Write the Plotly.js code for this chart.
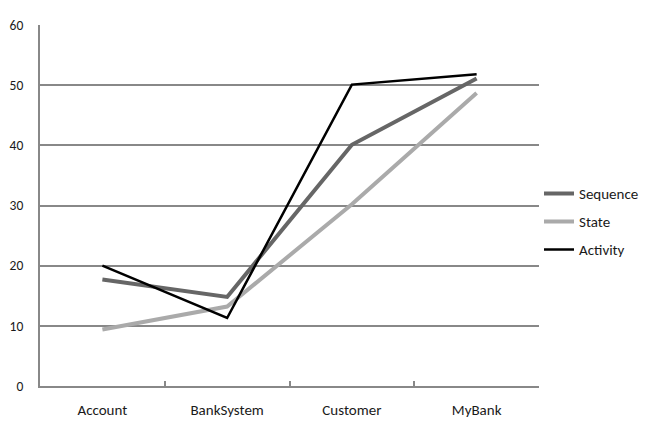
<!DOCTYPE html>
<html>
<head>
<meta charset="utf-8">
<script src="https://cdn.plot.ly/plotly-3.0.1.min.js"></script>
<style>html,body{margin:0;padding:0;background:#fff;}#chart{width:649px;height:438px;}</style>
</head>
<body>
<div id="chart"></div>
<script>
const categories = ["Account", "BankSystem", "Customer", "MyBank"];
const sequenceValues = [17.7, 14.8, 40.1, 51.1];
const stateValues = [9.4, 13.2, 30.2, 48.7];
const activityValues = [20.0, 11.3, 50.1, 51.8];
const seriesNames = ["Sequence", "State", "Activity"];
const yTicks = [0, 10, 20, 30, 40, 50, 60];

const traces = [
  {x: categories, y: sequenceValues, name: seriesNames[0], legendgroup: "a", type: "scatter", mode: "lines", line: {color: "#666666", width: 4}},
  {x: categories, y: stateValues, name: seriesNames[1], legendgroup: "b", type: "scatter", mode: "lines", line: {color: "#aaaaaa", width: 4}},
  {x: categories, y: activityValues, name: seriesNames[2], legendgroup: "c", type: "scatter", mode: "lines", line: {color: "#000000", width: 2.5}}
];

const layout = {
  width: 649, height: 438,
  margin: {l: 40, r: 110, t: 25, b: 52, autoexpand: false},
  paper_bgcolor: "#ffffff", plot_bgcolor: "#ffffff",
  font: {family: "Carlito, Lato, sans-serif", size: 15, color: "#1a1a1a"},
  showlegend: true,
  legend: {x: 1.0, xanchor: "left", y: 0.455, yanchor: "middle", tracegroupgap: 5.5, font: {size: 15, color: "#1a1a1a"}, bgcolor: "rgba(0,0,0,0)"},
  xaxis: {
    type: "category", range: [-0.5, 3.5],
    showline: true, linecolor: "#888888", linewidth: 2,
    ticks: "inside", ticklen: 5, tickcolor: "#888888", tickwidth: 2,
    tickson: "boundaries", showgrid: false, zeroline: false,
    tickfont: {size: 15},
    ticklabelstandoff: 9, fixedrange: true
  },
  yaxis: {
    range: [0, 60], tickvals: yTicks, ticktext: yTicks.map(String),
    showline: true, linecolor: "#888888", linewidth: 2,
    showgrid: true, gridcolor: "#888888", gridwidth: 2,
    zeroline: false, ticks: "", tickfont: {size: 13.5}, ticklabelstandoff: 12, fixedrange: true
  }
};

Plotly.newPlot("chart", traces, layout, {displayModeBar: false, staticPlot: true});
</script>
</body>
</html>
